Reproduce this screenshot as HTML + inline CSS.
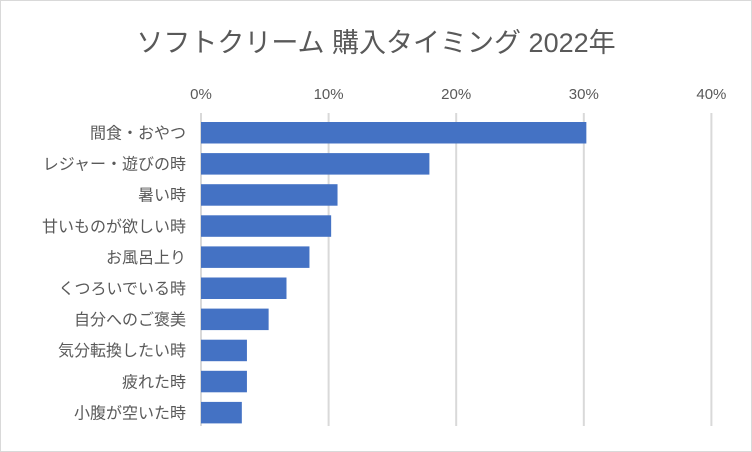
<!DOCTYPE html>
<html><head><meta charset="utf-8"><style>
body{margin:0;background:#fff;}
svg{display:block;font-family:"Liberation Sans","Noto Sans CJK JP",sans-serif;}
</style></head><body>
<svg id="chart" width="752" height="452">
<rect x="0.5" y="0.5" width="751" height="451" fill="#fff" stroke="#d9d9d9"/>
<text x="376" y="52" text-anchor="middle" font-size="27" fill="#595959">ソフトクリーム 購入タイミング 2022年</text>
<g id="grid"></g><g id="bars"></g><g id="labels"></g>
</svg>
<script>
const categories=["間食・おやつ","レジャー・遊びの時","暑い時","甘いものが欲しい時","お風呂上り","くつろいでいる時","自分へのご褒美","気分転換したい時","疲れた時","小腹が空いた時"];
const values=[30.2,17.9,10.7,10.2,8.5,6.7,5.3,3.6,3.6,3.2];
const ticks=[0,10,20,30,40];
const tickLabels=["0%","10%","20%","30%","40%"];
const NS="http://www.w3.org/2000/svg";
const x=v=>201+v*12.76;
const y=i=>122+i*31.1;
function mk(t,a,p){const e=document.createElementNS(NS,t);for(const k in a)e.setAttribute(k,a[k]);p.appendChild(e);return e;}
const g=document.getElementById('grid'),b=document.getElementById('bars'),l=document.getElementById('labels');
ticks.forEach((t,i)=>{
const ln=mk('line',{x1:x(t),x2:x(t),y1:113,y2:426,stroke:'#d9d9d9','stroke-width':2},g);


const tx=mk('text',{x:x(t),y:99,'text-anchor':'middle','font-size':15,fill:'#595959'},g);
tx.textContent=tickLabels[i];


});
categories.forEach((c,i)=>{
const r=mk('rect',{x:x(0),y:y(i),width:x(values[i])-x(0),height:21.5,fill:'#4472c4'},b);


const t=mk('text',{x:186,y:y(i)+16.5,'text-anchor':'end','font-size':16,fill:'#595959'},l);
t.textContent=c;


});
</script>
</body></html>
